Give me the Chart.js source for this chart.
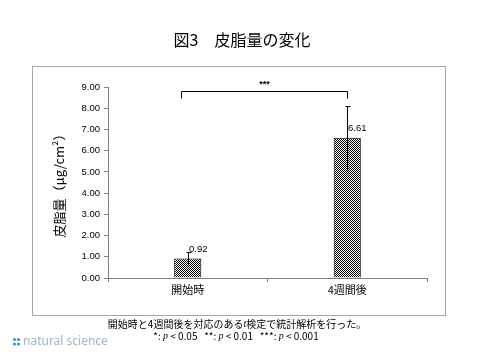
<!DOCTYPE html>
<html><head><meta charset="utf-8">
<script src="https://cdn.jsdelivr.net/npm/chart.js@4.4.1/dist/chart.umd.min.js"></script>
<style>html,body{margin:0;padding:0;background:#fff}#wrap{position:relative;width:478px;height:359px}</style>
</head><body><div id="wrap"><canvas id="c" width="478" height="359"></canvas></div>
<script>
const categories = ['開始時', '4週間後'];
const means = [0.92, 6.61];
const sds = [0.29, 1.5];
const yMin = 0, yMax = 9, yStep = 1;
const chartTitle = '図3　皮脂量の変化';
const yTitle = '皮脂量（μg/cm²）';
const sigLabel = '***';
const sigFrom = -0.045, sigTo = 1;   // category positions of bracket ends
const sigTop = 8.82, sigEnd = 8.49;  // bracket levels (y values)
const footLine1 = '開始時と4週間後を対応のある\u0000t\u0000検定で統計解析を行った。';
const footLine2 = '*: \u0000p\u0000 < 0.05   **: \u0000p\u0000 < 0.01   ***: \u0000p\u0000 < 0.001';
const logoText = 'natural science';

const CJK = '"Noto Sans CJK JP", "Noto Sans", sans-serif';
const LAT = '"Liberation Sans", Arial, sans-serif';

function makePattern() {
  const p = document.createElement('canvas');
  p.width = 2; p.height = 2;
  const g = p.getContext('2d');
  g.fillStyle = '#fff'; g.fillRect(0, 0, 2, 2);
  g.fillStyle = '#000'; g.fillRect(0, 0, 1, 1); g.fillRect(1, 1, 1, 1);
  return g.createPattern(p, 'repeat');
}
const ctx0 = document.getElementById('c').getContext('2d');
const pattern = makePattern();

function drawRuns(ctx, str, cx, y, size, italicFont) {
  const parts = str.split('\u0000');
  let widths = [], total = 0;
  parts.forEach((t, i) => {
    ctx.font = (i % 2 ? 'italic ' : '') + size + 'px ' + (i % 2 ? italicFont : CJK);
    const w = ctx.measureText(t).width; widths.push(w); total += w;
  });
  let x = cx - total / 2;
  ctx.textAlign = 'left';
  parts.forEach((t, i) => {
    ctx.font = (i % 2 ? 'italic ' : '') + size + 'px ' + (i % 2 ? italicFont : CJK);
    ctx.fillText(t, x, y); x += widths[i];
  });
}

const deco = {
  id: 'deco',
  beforeDraw(chart) {
    const ctx = chart.ctx;
    ctx.save();
    ctx.fillStyle = '#fff'; ctx.fillRect(0, 0, chart.width, chart.height);
    ctx.strokeStyle = '#a6a6a6'; ctx.lineWidth = 1;
    ctx.strokeRect(32.5, 66.5, 413, 249);
    ctx.fillStyle = '#000'; ctx.textBaseline = 'middle'; ctx.textAlign = 'center';
    ctx.font = '16px ' + CJK;
    ctx.fillText(chartTitle, 242, 40);
    drawRuns(ctx, footLine1, 237, 324, 10, 'Liberation Serif');
    drawRuns(ctx, footLine2, 236, 336, 10, 'Liberation Serif');
    // logo
    ctx.fillStyle = '#4a90c8';
    [[14.5, 339.5], [18.5, 339.5], [14.5, 344], [18.5, 344]].forEach(([x, y]) => {
      ctx.beginPath(); ctx.arc(x, y, 1.6, 0, Math.PI * 2); ctx.fill();
    });
    ctx.fillStyle = '#9fb6cc'; ctx.textAlign = 'left';
    ctx.font = '12px "Noto Sans", sans-serif';
    ctx.fillText(logoText, 23, 342);
    ctx.restore();
  },
  afterDatasetsDraw(chart) {
    const ctx = chart.ctx, xs = chart.scales.x, ys = chart.scales.y;
    ctx.save();
    ctx.strokeStyle = '#000'; ctx.lineWidth = 1;
    means.forEach((m, i) => {
      const x = Math.round(xs.getPixelForValue(i)) + 0.5;
      const top = Math.round(ys.getPixelForValue(m + sds[i])) + 0.5;
      const bot = Math.round(ys.getPixelForValue(m - sds[i])) + 0.5;
      ctx.beginPath();
      ctx.moveTo(x, bot); ctx.lineTo(x, top);
      ctx.moveTo(x - 2, top); ctx.lineTo(x + 3, top);
      ctx.stroke();
      ctx.fillStyle = '#000'; ctx.font = '9.5px ' + LAT;
      ctx.textAlign = 'left'; ctx.textBaseline = 'middle';
      ctx.fillText(m.toFixed(2), x + 0.5, ys.getPixelForValue(m) - 9);
    });
    // significance bracket
    const xl = Math.round(xs.getPixelForValue(sigFrom)) + 0.5;
    const xr = Math.round(xs.getPixelForValue(sigTo)) + 0.5;
    const yt = Math.round(ys.getPixelForValue(sigTop)) + 0.5;
    const ye = Math.round(ys.getPixelForValue(sigEnd)) + 0.5;
    ctx.beginPath();
    ctx.moveTo(xl, ye); ctx.lineTo(xl, yt); ctx.lineTo(xr, yt); ctx.lineTo(xr, ye);
    ctx.stroke();
    ctx.fillStyle = '#000'; ctx.font = 'bold 9px ' + LAT; ctx.textAlign = 'center';
    ctx.textBaseline = 'middle';
    ctx.fillText(sigLabel, (xl + xr) / 2, yt - 7);
    ctx.restore();
  }
};

new Chart(ctx0, {
  type: 'bar',
  data: {
    labels: categories,
    datasets: [{
      data: means,
      backgroundColor: pattern,
      borderColor: '#000',
      borderWidth: 1,
      categoryPercentage: 1,
      barPercentage: 0.17
    }]
  },
  options: {
    responsive: false,
    animation: false,
    devicePixelRatio: 1,
    layout: { padding: { left: 51, right: 51, top: 87, bottom: 61 } },
    plugins: { legend: { display: false }, tooltip: { enabled: false }, title: { display: false } },
    scales: {
      x: {
        offset: true,
        grid: { display: true, drawOnChartArea: false, drawTicks: true, tickLength: 4, color: '#808080' },
        border: { color: '#808080' },
        ticks: { color: '#000', font: { family: CJK, size: 11 }, padding: 1, maxRotation: 0 },
        afterFit(s) { s.height = 20; }
      },
      y: {
        min: yMin, max: yMax,
        grid: { display: true, drawOnChartArea: false, drawTicks: true, tickLength: 4, color: '#808080' },
        border: { color: '#808080' },
        ticks: { stepSize: yStep, color: '#000', font: { family: LAT, size: 9.5 }, padding: 4,
                 callback: v => Number(v).toFixed(2) },
        title: { display: true, text: yTitle, color: '#000', font: { family: CJK, size: 13 }, padding: { top: 0, bottom: 0 } },
        afterFit(s) { s.width = 57; }
      }
    }
  },
  plugins: [deco]
});
</script></body></html>
